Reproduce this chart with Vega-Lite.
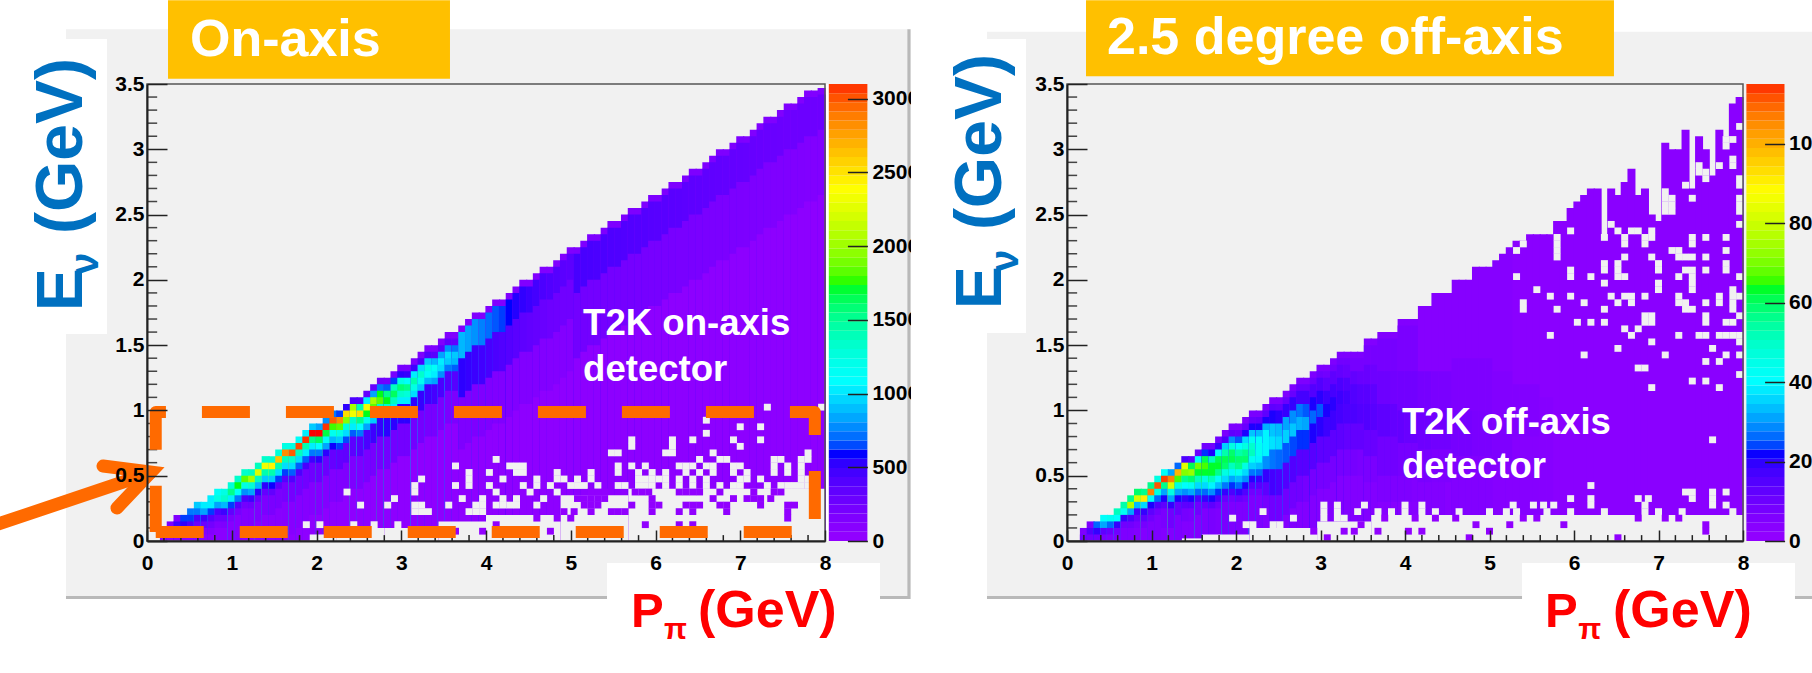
{"$schema":"https://vega.github.io/schema/vega-lite/v6.json","background":"white","autosize":{"type":"none"},"padding":{"left":147,"top":84,"right":1665,"bottom":589},"bounds":"flush","spacing":242,"config":{"view":{"stroke":null}},"resolve":{"scale":{"color":"independent"}},
"hconcat":[
{"width":678,"height":457,"resolve":{"scale":{"x":"independent","y":"independent"},"axis":{"x":"independent","y":"independent"}},"layer":[
{"data":{"values":[
{"x":-0.956,"e":9.0,"y":-0.444,"t":-0.421,"c":"#b9b9b9"},
{"x":8.97,"e":9.01,"y":-0.444,"t":3.92,"c":"#b9b9b9"},
{"x":-0.956,"e":8.97,"y":-0.421,"t":3.92,"c":"#f1f1f1"},
{"x":-0.956,"e":-0.472,"y":1.585,"t":3.844,"c":"#ffffff"},
{"x":5.428,"e":8.649,"y":-0.47,"t":-0.168,"c":"#ffffff"},
{"x":0.248,"e":3.575,"y":3.541,"t":4.142,"c":"#ffc000"},
{"x":8.005,"e":8.045,"y":0,"t":3.5,"c":"#ffffff"}]},
"mark":{"type":"rect"},"encoding":{"x":{"field":"x","type":"quantitative","scale":{"domain":[0,8],"nice":false,"padding":0},"axis":{"orient":"bottom","values":[0,1,2,3,4,5,6,7,8],"title":null,"grid":false,"zindex":1,"domainColor":"#222","domainWidth":2,"tickColor":"#222","tickWidth":1.5,"tickSize":-11,"labelPadding":22,"labelFontSize":21,"labelFontWeight":"bold","labelFont":"Liberation Sans","labelColor":"#000","labelFlush":false,"labelOverlap":false}},"x2":{"field":"e"},"y":{"field":"y","type":"quantitative","scale":{"domain":[0,3.5],"nice":false,"padding":0},"axis":{"orient":"left","values":[0,0.5,1,1.5,2,2.5,3,3.5],"format":"~g","title":null,"grid":false,"zindex":1,"domainColor":"#222","domainWidth":2,"tickColor":"#222","tickWidth":1.5,"tickSize":-20,"labelPadding":23,"labelFontSize":21,"labelFontWeight":"bold","labelFont":"Liberation Sans","labelColor":"#000","labelFlush":false,"labelOverlap":false}},"y2":{"field":"t"},"fill":{"field":"c","type":"nominal","scale":null}}},
{"data":{"values":[
{"x":0.2,"b":0.1,"v":100},{"x":0.2,"b":0.05,"v":60},
{"x":0.28,"b":0.15,"v":130},{"x":0.28,"b":0.1,"v":500},{"x":0.28,"b":0.05,"v":60},
{"x":0.36,"b":0.2,"v":120},{"x":0.36,"b":0.15,"v":450},{"x":0.36,"b":0.1,"v":350},{"x":0.36,"b":0.05,"v":80},
{"x":0.44,"b":0.2,"v":600},{"x":0.44,"b":0.15,"v":500},{"x":0.44,"b":0.1,"v":300},{"x":0.44,"b":0.05,"v":80},
{"x":0.52,"b":0.25,"v":700},{"x":0.52,"b":0.2,"v":600},{"x":0.52,"b":0.15,"v":400},{"x":0.52,"b":0.1,"v":150},{"x":0.52,"b":0.05,"v":50},
{"x":0.6,"b":0.3,"v":900},{"x":0.6,"b":0.25,"v":700},{"x":0.6,"b":0.2,"v":400},{"x":0.6,"b":0.15,"v":250},{"x":0.6,"b":0.1,"v":100},{"x":0.6,"b":0.05,"v":40},
{"x":0.68,"b":0.3,"v":1000},{"x":0.68,"b":0.25,"v":800},{"x":0.68,"b":0.2,"v":450},{"x":0.68,"b":0.15,"v":250},{"x":0.68,"b":0.1,"v":100},{"x":0.68,"b":0.05,"v":40},
{"x":0.76,"b":0.35,"v":1000},{"x":0.76,"b":0.3,"v":1000},{"x":0.76,"b":0.25,"v":600},{"x":0.76,"b":0.2,"v":350},{"x":0.76,"b":0.15,"v":200},{"x":0.76,"b":0.1,"v":100},{"x":0.76,"b":0.05,"v":40},
{"x":0.84,"b":0.4,"v":1100},{"x":0.84,"b":0.35,"v":1200},{"x":0.84,"b":0.3,"v":800},{"x":0.84,"b":0.25,"v":400},{"x":0.84,"b":0.2,"v":250},{"x":0.84,"b":0.15,"v":120},{"x":0.84,"b":0.1,"v":50},
{"x":0.92,"b":0.4,"v":1200},{"x":0.92,"b":0.35,"v":1300},{"x":0.92,"b":0.3,"v":850},{"x":0.92,"b":0.25,"v":450},{"x":0.92,"b":0.2,"v":250},{"x":0.92,"b":0.15,"v":130},{"x":0.92,"b":0.1,"v":50},
{"x":1,"b":0.45,"v":1250},{"x":1,"b":0.4,"v":1500},{"x":1,"b":0.35,"v":1000},{"x":1,"b":0.3,"v":600},{"x":1,"b":0.25,"v":300},{"x":1,"b":0.2,"v":150},{"x":1,"b":0.15,"v":70},
{"x":1.08,"b":0.5,"v":1300},{"x":1.08,"b":0.45,"v":1700},{"x":1.08,"b":0.4,"v":1100},{"x":1.08,"b":0.35,"v":700},{"x":1.08,"b":0.3,"v":350},{"x":1.08,"b":0.25,"v":180},{"x":1.08,"b":0.2,"v":80},
{"x":1.16,"b":0.55,"v":1300},{"x":1.16,"b":0.5,"v":1800},{"x":1.16,"b":0.45,"v":1200},{"x":1.16,"b":0.4,"v":750},{"x":1.16,"b":0.35,"v":400},{"x":1.16,"b":0.3,"v":200},{"x":1.16,"b":0.25,"v":100},{"x":1.16,"b":0.1,"v":40},
{"x":1.24,"b":0.55,"v":1350},{"x":1.24,"b":0.5,"v":2000},{"x":1.24,"b":0.45,"v":1250},{"x":1.24,"b":0.4,"v":800},{"x":1.24,"b":0.35,"v":450},{"x":1.24,"b":0.3,"v":220},{"x":1.24,"b":0.25,"v":110},{"x":1.24,"b":0.1,"v":40},
{"x":1.32,"b":0.6,"v":1350},{"x":1.32,"b":0.55,"v":2200},{"x":1.32,"b":0.5,"v":1350},{"x":1.32,"b":0.45,"v":850},{"x":1.32,"b":0.4,"v":500},{"x":1.32,"b":0.35,"v":250},{"x":1.32,"b":0.3,"v":125},{"x":1.32,"b":0.15,"v":50},
{"x":1.4,"b":0.65,"v":1300},{"x":1.4,"b":0.6,"v":2300},{"x":1.4,"b":0.55,"v":1400},{"x":1.4,"b":0.5,"v":900},{"x":1.4,"b":0.45,"v":500},{"x":1.4,"b":0.4,"v":280},{"x":1.4,"b":0.35,"v":140},{"x":1.4,"b":0.2,"v":55},
{"x":1.48,"b":0.65,"v":1300},{"x":1.48,"b":0.6,"v":2400},{"x":1.48,"b":0.55,"v":1400},{"x":1.48,"b":0.5,"v":900},{"x":1.48,"b":0.45,"v":550},{"x":1.48,"b":0.4,"v":300},{"x":1.48,"b":0.35,"v":150},{"x":1.48,"b":0.2,"v":60},
{"x":1.56,"b":0.7,"v":1250},{"x":1.56,"b":0.65,"v":2600},{"x":1.56,"b":0.6,"v":1400},{"x":1.56,"b":0.55,"v":950},{"x":1.56,"b":0.5,"v":600},{"x":1.56,"b":0.45,"v":320},{"x":1.56,"b":0.4,"v":160},{"x":1.56,"b":0.25,"v":65},
{"x":1.64,"b":0.75,"v":1200},{"x":1.64,"b":0.7,"v":2800},{"x":1.64,"b":0.65,"v":1350},{"x":1.64,"b":0.6,"v":950},{"x":1.64,"b":0.55,"v":600},{"x":1.64,"b":0.5,"v":350},{"x":1.64,"b":0.45,"v":175},{"x":1.64,"b":0.3,"v":70},{"x":1.64,"b":0.05,"v":25},
{"x":1.72,"b":0.75,"v":1200},{"x":1.72,"b":0.7,"v":2950},{"x":1.72,"b":0.65,"v":1300},{"x":1.72,"b":0.6,"v":950},{"x":1.72,"b":0.55,"v":650},{"x":1.72,"b":0.5,"v":380},{"x":1.72,"b":0.45,"v":190},{"x":1.72,"b":0.3,"v":75},{"x":1.72,"b":0.05,"v":25},
{"x":1.8,"b":0.8,"v":1100},{"x":1.8,"b":0.75,"v":3000},{"x":1.8,"b":0.7,"v":1350},{"x":1.8,"b":0.65,"v":950},{"x":1.8,"b":0.6,"v":650},{"x":1.8,"b":0.55,"v":400},{"x":1.8,"b":0.5,"v":200},{"x":1.8,"b":0.35,"v":80},{"x":1.8,"b":0.1,"v":25},
{"x":1.88,"b":0.85,"v":1000},{"x":1.88,"b":0.8,"v":3050},{"x":1.88,"b":0.75,"v":1400},{"x":1.88,"b":0.7,"v":1000},{"x":1.88,"b":0.65,"v":650},{"x":1.88,"b":0.6,"v":420},{"x":1.88,"b":0.55,"v":210},{"x":1.88,"b":0.4,"v":85},{"x":1.88,"b":0.15,"v":25},
{"x":1.96,"b":0.9,"v":900},{"x":1.96,"b":0.85,"v":3100},{"x":1.96,"b":0.8,"v":1500},{"x":1.96,"b":0.75,"v":1000},{"x":1.96,"b":0.7,"v":700},{"x":1.96,"b":0.65,"v":450},{"x":1.96,"b":0.6,"v":225},{"x":1.96,"b":0.45,"v":90},{"x":1.96,"b":0.2,"v":25},
{"x":2.04,"b":0.9,"v":800},{"x":2.04,"b":0.85,"v":3100},{"x":2.04,"b":0.8,"v":1600},{"x":2.04,"b":0.75,"v":1050},{"x":2.04,"b":0.7,"v":700},{"x":2.04,"b":0.65,"v":500},{"x":2.04,"b":0.6,"v":250},{"x":2.04,"b":0.45,"v":100},{"x":2.04,"b":0.2,"v":25},
{"x":2.12,"b":0.95,"v":750},{"x":2.12,"b":0.9,"v":3050},{"x":2.12,"b":0.85,"v":1650},{"x":2.12,"b":0.8,"v":1100},{"x":2.12,"b":0.75,"v":800},{"x":2.12,"b":0.7,"v":500},{"x":2.12,"b":0.65,"v":250},{"x":2.12,"b":0.5,"v":100},{"x":2.12,"b":0.25,"v":25},
{"x":2.2,"b":1,"v":700},{"x":2.2,"b":0.95,"v":2950},{"x":2.2,"b":0.9,"v":1750},{"x":2.2,"b":0.85,"v":1150},{"x":2.2,"b":0.8,"v":850},{"x":2.2,"b":0.75,"v":550},{"x":2.2,"b":0.7,"v":275},{"x":2.2,"b":0.55,"v":110},{"x":2.2,"b":0.3,"v":25},
{"x":2.28,"b":1,"v":600},{"x":2.28,"b":0.95,"v":2800},{"x":2.28,"b":0.9,"v":1800},{"x":2.28,"b":0.85,"v":1200},{"x":2.28,"b":0.8,"v":900},{"x":2.28,"b":0.75,"v":600},{"x":2.28,"b":0.7,"v":300},{"x":2.28,"b":0.55,"v":120},{"x":2.28,"b":0.3,"v":25},
{"x":2.36,"b":1.05,"v":500},{"x":2.36,"b":1,"v":2500},{"x":2.36,"b":0.95,"v":1900},{"x":2.36,"b":0.9,"v":1250},{"x":2.36,"b":0.85,"v":950},{"x":2.36,"b":0.8,"v":620},{"x":2.36,"b":0.75,"v":310},{"x":2.36,"b":0.6,"v":125},{"x":2.36,"b":0.35,"v":25},
{"x":2.44,"b":1.1,"v":400},{"x":2.44,"b":1.05,"v":2000},{"x":2.44,"b":1,"v":2300},{"x":2.44,"b":0.95,"v":1300},{"x":2.44,"b":0.9,"v":1000},{"x":2.44,"b":0.85,"v":650},{"x":2.44,"b":0.8,"v":325},{"x":2.44,"b":0.65,"v":130},{"x":2.44,"b":0.4,"v":25},
{"x":2.52,"b":1.1,"v":380},{"x":2.52,"b":1.05,"v":1400},{"x":2.52,"b":1,"v":2500},{"x":2.52,"b":0.95,"v":1500},{"x":2.52,"b":0.9,"v":1050},{"x":2.52,"b":0.85,"v":700},{"x":2.52,"b":0.8,"v":350},{"x":2.52,"b":0.65,"v":140},{"x":2.52,"b":0.4,"v":25},
{"x":2.6,"b":1.15,"v":300},{"x":2.6,"b":1.1,"v":1000},{"x":2.6,"b":1.05,"v":2300},{"x":2.6,"b":1,"v":1700},{"x":2.6,"b":0.95,"v":1150},{"x":2.6,"b":0.9,"v":800},{"x":2.6,"b":0.85,"v":400},{"x":2.6,"b":0.7,"v":160},{"x":2.6,"b":0.45,"v":25},
{"x":2.68,"b":1.2,"v":280},{"x":2.68,"b":1.15,"v":800},{"x":2.68,"b":1.1,"v":2000},{"x":2.68,"b":1.05,"v":1800},{"x":2.68,"b":1,"v":1250},{"x":2.68,"b":0.95,"v":900},{"x":2.68,"b":0.9,"v":450},{"x":2.68,"b":0.75,"v":180},{"x":2.68,"b":0.5,"v":25},
{"x":2.76,"b":1.25,"v":220},{"x":2.76,"b":1.2,"v":700},{"x":2.76,"b":1.15,"v":1700},{"x":2.76,"b":1.1,"v":1800},{"x":2.76,"b":1.05,"v":1300},{"x":2.76,"b":1,"v":950},{"x":2.76,"b":0.95,"v":475},{"x":2.76,"b":0.8,"v":190},{"x":2.76,"b":0.55,"v":25},
{"x":2.84,"b":1.25,"v":200},{"x":2.84,"b":1.2,"v":650},{"x":2.84,"b":1.15,"v":1500},{"x":2.84,"b":1.1,"v":1700},{"x":2.84,"b":1.05,"v":1300},{"x":2.84,"b":1,"v":1000},{"x":2.84,"b":0.95,"v":500},{"x":2.84,"b":0.8,"v":200},{"x":2.84,"b":0.55,"v":25},
{"x":2.92,"b":1.3,"v":180},{"x":2.92,"b":1.25,"v":600},{"x":2.92,"b":1.2,"v":1350},{"x":2.92,"b":1.15,"v":1600},{"x":2.92,"b":1.1,"v":1350},{"x":2.92,"b":1.05,"v":1000},{"x":2.92,"b":1,"v":500},{"x":2.92,"b":0.85,"v":200},{"x":2.92,"b":0.6,"v":25},
{"x":3,"b":1.35,"v":170},{"x":3,"b":1.3,"v":500},{"x":3,"b":1.25,"v":1200},{"x":3,"b":1.2,"v":1550},{"x":3,"b":1.15,"v":1300},{"x":3,"b":1.1,"v":1000},{"x":3,"b":1.05,"v":500},{"x":3,"b":0.9,"v":200},{"x":3,"b":0.65,"v":25},
{"x":3.08,"b":1.35,"v":160},{"x":3.08,"b":1.3,"v":480},{"x":3.08,"b":1.25,"v":1100},{"x":3.08,"b":1.2,"v":1500},{"x":3.08,"b":1.15,"v":1250},{"x":3.08,"b":1.1,"v":1000},{"x":3.08,"b":1.05,"v":500},{"x":3.08,"b":0.9,"v":200},{"x":3.08,"b":0.65,"v":25},
{"x":3.16,"b":1.4,"v":150},{"x":3.16,"b":1.35,"v":450},{"x":3.16,"b":1.3,"v":1000},{"x":3.16,"b":1.25,"v":1400},{"x":3.16,"b":1.2,"v":1200},{"x":3.16,"b":1.15,"v":950},{"x":3.16,"b":1.1,"v":500},{"x":3.16,"b":0.95,"v":200},{"x":3.16,"b":0.7,"v":25},
{"x":3.24,"b":1.45,"v":140},{"x":3.24,"b":1.4,"v":400},{"x":3.24,"b":1.35,"v":950},{"x":3.24,"b":1.3,"v":1300},{"x":3.24,"b":1.25,"v":1150},{"x":3.24,"b":1.2,"v":900},{"x":3.24,"b":1.15,"v":475},{"x":3.24,"b":1,"v":190},{"x":3.24,"b":0.75,"v":25},
{"x":3.32,"b":1.5,"v":130},{"x":3.32,"b":1.45,"v":380},{"x":3.32,"b":1.4,"v":900},{"x":3.32,"b":1.35,"v":1200},{"x":3.32,"b":1.3,"v":1100},{"x":3.32,"b":1.25,"v":850},{"x":3.32,"b":1.2,"v":450},{"x":3.32,"b":1.05,"v":180},{"x":3.32,"b":0.8,"v":25},
{"x":3.4,"b":1.5,"v":130},{"x":3.4,"b":1.45,"v":350},{"x":3.4,"b":1.4,"v":850},{"x":3.4,"b":1.35,"v":1100},{"x":3.4,"b":1.3,"v":1000},{"x":3.4,"b":1.25,"v":800},{"x":3.4,"b":1.2,"v":425},{"x":3.4,"b":1.05,"v":170},{"x":3.4,"b":0.8,"v":25},
{"x":3.48,"b":1.55,"v":120},{"x":3.48,"b":1.5,"v":330},{"x":3.48,"b":1.45,"v":800},{"x":3.48,"b":1.4,"v":1000},{"x":3.48,"b":1.35,"v":950},{"x":3.48,"b":1.3,"v":750},{"x":3.48,"b":1.25,"v":400},{"x":3.48,"b":1.1,"v":160},{"x":3.48,"b":0.85,"v":25},
{"x":3.56,"b":1.6,"v":120},{"x":3.56,"b":1.55,"v":320},{"x":3.56,"b":1.5,"v":750},{"x":3.56,"b":1.45,"v":950},{"x":3.56,"b":1.4,"v":900},{"x":3.56,"b":1.35,"v":700},{"x":3.56,"b":1.3,"v":375},{"x":3.56,"b":1.15,"v":150},{"x":3.56,"b":0.9,"v":25},
{"x":3.64,"b":1.6,"v":110},{"x":3.64,"b":1.55,"v":300},{"x":3.64,"b":1.5,"v":700},{"x":3.64,"b":1.45,"v":900},{"x":3.64,"b":1.4,"v":850},{"x":3.64,"b":1.35,"v":650},{"x":3.64,"b":1.3,"v":350},{"x":3.64,"b":1.15,"v":140},{"x":3.64,"b":0.9,"v":25},
{"x":3.72,"b":1.65,"v":110},{"x":3.72,"b":1.6,"v":850},{"x":3.72,"b":1.4,"v":500},{"x":3.72,"b":1.1,"v":130},{"x":3.72,"b":0.7,"v":25},
{"x":3.8,"b":1.7,"v":110},{"x":3.8,"b":1.65,"v":800},{"x":3.8,"b":1.45,"v":480},{"x":3.8,"b":1.15,"v":130},{"x":3.8,"b":0.75,"v":25},
{"x":3.88,"b":1.75,"v":110},{"x":3.88,"b":1.7,"v":760},{"x":3.88,"b":1.5,"v":460},{"x":3.88,"b":1.2,"v":130},{"x":3.88,"b":0.8,"v":25},
{"x":3.96,"b":1.75,"v":110},{"x":3.96,"b":1.7,"v":720},{"x":3.96,"b":1.5,"v":440},{"x":3.96,"b":1.2,"v":125},{"x":3.96,"b":0.8,"v":25},
{"x":4.04,"b":1.8,"v":110},{"x":4.04,"b":1.75,"v":680},{"x":4.04,"b":1.55,"v":420},{"x":4.04,"b":1.25,"v":125},{"x":4.04,"b":0.85,"v":25},
{"x":4.12,"b":1.85,"v":110},{"x":4.12,"b":1.8,"v":640},{"x":4.12,"b":1.6,"v":400},{"x":4.12,"b":1.3,"v":120},{"x":4.12,"b":0.9,"v":25},
{"x":4.2,"b":1.85,"v":110},{"x":4.2,"b":1.8,"v":600},{"x":4.2,"b":1.6,"v":380},{"x":4.2,"b":1.3,"v":120},{"x":4.2,"b":0.9,"v":25},
{"x":4.28,"b":1.9,"v":110},{"x":4.28,"b":1.85,"v":560},{"x":4.28,"b":1.65,"v":360},{"x":4.28,"b":1.35,"v":115},{"x":4.28,"b":0.95,"v":25},
{"x":4.36,"b":1.95,"v":110},{"x":4.36,"b":1.9,"v":520},{"x":4.36,"b":1.7,"v":340},{"x":4.36,"b":1.4,"v":115},{"x":4.36,"b":1,"v":25},
{"x":4.44,"b":2,"v":110},{"x":4.44,"b":1.95,"v":490},{"x":4.44,"b":1.75,"v":320},{"x":4.44,"b":1.45,"v":110},{"x":4.44,"b":1.05,"v":25},
{"x":4.52,"b":2,"v":110},{"x":4.52,"b":1.95,"v":460},{"x":4.52,"b":1.75,"v":300},{"x":4.52,"b":1.45,"v":110},{"x":4.52,"b":1.05,"v":25},
{"x":4.6,"b":2.05,"v":110},{"x":4.6,"b":2,"v":430},{"x":4.6,"b":1.8,"v":280},{"x":4.6,"b":1.5,"v":105},{"x":4.6,"b":1.1,"v":25},
{"x":4.68,"b":2.1,"v":110},{"x":4.68,"b":2.05,"v":400},{"x":4.68,"b":1.85,"v":260},{"x":4.68,"b":1.55,"v":105},{"x":4.68,"b":1.15,"v":25},
{"x":4.76,"b":2.1,"v":110},{"x":4.76,"b":2.05,"v":380},{"x":4.76,"b":1.85,"v":240},{"x":4.76,"b":1.55,"v":100},{"x":4.76,"b":1.15,"v":25},
{"x":4.84,"b":2.15,"v":110},{"x":4.84,"b":2.1,"v":360},{"x":4.84,"b":1.9,"v":230},{"x":4.84,"b":1.6,"v":100},{"x":4.84,"b":1.2,"v":25},
{"x":4.92,"b":2.2,"v":110},{"x":4.92,"b":2.15,"v":340},{"x":4.92,"b":1.95,"v":220},{"x":4.92,"b":1.65,"v":100},{"x":4.92,"b":1.25,"v":25},
{"x":5,"b":2.25,"v":110},{"x":5,"b":2.2,"v":330},{"x":5,"b":2,"v":220},{"x":5,"b":1.7,"v":100},{"x":5,"b":1.3,"v":25},
{"x":5.08,"b":2.25,"v":130},{"x":5.08,"b":2.2,"v":420},{"x":5.08,"b":1.9,"v":210},{"x":5.08,"b":1.4,"v":30},
{"x":5.16,"b":2.3,"v":130},{"x":5.16,"b":2.25,"v":415},{"x":5.16,"b":1.95,"v":207},{"x":5.16,"b":1.45,"v":30},
{"x":5.24,"b":2.35,"v":130},{"x":5.24,"b":2.3,"v":410},{"x":5.24,"b":2,"v":204},{"x":5.24,"b":1.5,"v":30},
{"x":5.32,"b":2.35,"v":130},{"x":5.32,"b":2.3,"v":403},{"x":5.32,"b":2,"v":201},{"x":5.32,"b":1.5,"v":30},
{"x":5.4,"b":2.4,"v":130},{"x":5.4,"b":2.35,"v":398},{"x":5.4,"b":2.05,"v":199},{"x":5.4,"b":1.55,"v":30},
{"x":5.48,"b":2.45,"v":130},{"x":5.48,"b":2.4,"v":392},{"x":5.48,"b":2.1,"v":196},{"x":5.48,"b":1.6,"v":30},
{"x":5.56,"b":2.45,"v":130},{"x":5.56,"b":2.4,"v":386},{"x":5.56,"b":2.1,"v":193},{"x":5.56,"b":1.6,"v":30},
{"x":5.64,"b":2.5,"v":130},{"x":5.64,"b":2.45,"v":381},{"x":5.64,"b":2.15,"v":190},{"x":5.64,"b":1.65,"v":30},
{"x":5.72,"b":2.55,"v":130},{"x":5.72,"b":2.5,"v":375},{"x":5.72,"b":2.2,"v":188},{"x":5.72,"b":1.7,"v":30},
{"x":5.8,"b":2.55,"v":130},{"x":5.8,"b":2.5,"v":370},{"x":5.8,"b":2.2,"v":185},{"x":5.8,"b":1.7,"v":30},
{"x":5.88,"b":2.6,"v":130},{"x":5.88,"b":2.55,"v":364},{"x":5.88,"b":2.25,"v":182},{"x":5.88,"b":1.75,"v":30},
{"x":5.96,"b":2.65,"v":130},{"x":5.96,"b":2.6,"v":358},{"x":5.96,"b":2.3,"v":179},{"x":5.96,"b":1.8,"v":30},
{"x":6.04,"b":2.65,"v":130},{"x":6.04,"b":2.6,"v":353},{"x":6.04,"b":2.3,"v":176},{"x":6.04,"b":1.8,"v":30},
{"x":6.12,"b":2.7,"v":130},{"x":6.12,"b":2.65,"v":347},{"x":6.12,"b":2.35,"v":174},{"x":6.12,"b":1.85,"v":30},
{"x":6.2,"b":2.75,"v":130},{"x":6.2,"b":2.7,"v":342},{"x":6.2,"b":2.4,"v":171},{"x":6.2,"b":1.9,"v":30},
{"x":6.28,"b":2.75,"v":130},{"x":6.28,"b":2.7,"v":336},{"x":6.28,"b":2.4,"v":168},{"x":6.28,"b":1.9,"v":30},
{"x":6.36,"b":2.8,"v":130},{"x":6.36,"b":2.75,"v":330},{"x":6.36,"b":2.45,"v":165},{"x":6.36,"b":1.95,"v":30},
{"x":6.44,"b":2.85,"v":130},{"x":6.44,"b":2.8,"v":325},{"x":6.44,"b":2.5,"v":162},{"x":6.44,"b":2,"v":30},
{"x":6.52,"b":2.85,"v":130},{"x":6.52,"b":2.8,"v":319},{"x":6.52,"b":2.5,"v":160},{"x":6.52,"b":2,"v":30},
{"x":6.6,"b":2.9,"v":130},{"x":6.6,"b":2.85,"v":314},{"x":6.6,"b":2.55,"v":157},{"x":6.6,"b":2.05,"v":30},
{"x":6.68,"b":2.95,"v":130},{"x":6.68,"b":2.9,"v":308},{"x":6.68,"b":2.6,"v":154},{"x":6.68,"b":2.1,"v":30},
{"x":6.76,"b":3,"v":130},{"x":6.76,"b":2.95,"v":302},{"x":6.76,"b":2.65,"v":151},{"x":6.76,"b":2.15,"v":30},
{"x":6.84,"b":3,"v":130},{"x":6.84,"b":2.95,"v":297},{"x":6.84,"b":2.65,"v":148},{"x":6.84,"b":2.15,"v":30},
{"x":6.92,"b":3.05,"v":130},{"x":6.92,"b":3,"v":291},{"x":6.92,"b":2.7,"v":146},{"x":6.92,"b":2.2,"v":30},
{"x":7,"b":3.1,"v":130},{"x":7,"b":3.05,"v":286},{"x":7,"b":2.75,"v":143},{"x":7,"b":2.25,"v":30},
{"x":7.08,"b":3.1,"v":120},{"x":7.08,"b":3.05,"v":280},{"x":7.08,"b":2.75,"v":140},{"x":7.08,"b":2.25,"v":30},
{"x":7.16,"b":3.15,"v":120},{"x":7.16,"b":3.1,"v":274},{"x":7.16,"b":2.8,"v":137},{"x":7.16,"b":2.3,"v":30},
{"x":7.24,"b":3.2,"v":120},{"x":7.24,"b":3.15,"v":269},{"x":7.24,"b":2.85,"v":134},{"x":7.24,"b":2.35,"v":30},
{"x":7.32,"b":3.25,"v":120},{"x":7.32,"b":3.2,"v":263},{"x":7.32,"b":2.9,"v":132},{"x":7.32,"b":2.4,"v":30},
{"x":7.4,"b":3.25,"v":120},{"x":7.4,"b":3.2,"v":258},{"x":7.4,"b":2.9,"v":129},{"x":7.4,"b":2.4,"v":30},
{"x":7.48,"b":3.3,"v":120},{"x":7.48,"b":3.25,"v":252},{"x":7.48,"b":2.95,"v":126},{"x":7.48,"b":2.45,"v":30},
{"x":7.56,"b":3.35,"v":120},{"x":7.56,"b":3.3,"v":249},{"x":7.56,"b":3,"v":123},{"x":7.56,"b":2.5,"v":30},
{"x":7.64,"b":3.35,"v":110},{"x":7.64,"b":3.3,"v":246},{"x":7.64,"b":3,"v":120},{"x":7.64,"b":2.5,"v":30},
{"x":7.72,"b":3.4,"v":110},{"x":7.72,"b":3.35,"v":244},{"x":7.72,"b":3.05,"v":118},{"x":7.72,"b":2.55,"v":30},
{"x":7.8,"b":3.45,"v":110},{"x":7.8,"b":3.4,"v":241},{"x":7.8,"b":3.1,"v":115},{"x":7.8,"b":2.6,"v":30},
{"x":7.88,"b":3.45,"v":110},{"x":7.88,"b":3.4,"v":238},{"x":7.88,"b":3.1,"v":112},{"x":7.88,"b":2.6,"v":30},
{"x":7.96,"b":3.47,"v":110},{"x":7.96,"b":3.42,"v":238},{"x":7.96,"b":3.15,"v":112},{"x":7.96,"b":2.65,"v":30}]},
"mark":{"type":"bar","width":8,"orient":"vertical"},"encoding":{"x":{"field":"x","type":"quantitative","scale":{"domain":[0,8],"nice":false,"padding":0},"axis":null},"y":{"field":"b","type":"quantitative","stack":null,"scale":{"domain":[0,3.5],"nice":false,"padding":0},"axis":null},"color":{"field":"v","type":"quantitative","legend":null,"scale":{"domain":[0,560,1050,1710,2360,3100],"range":["#9100ff","#0000ff","#00ffff","#00ff00","#ffff00","#ff0000"]}}}},
{"data":{"values":[
{"x":1.92,"e":2.24,"y":0,"t":0.05},{"x":2.24,"e":2.8,"y":0,"t":0.1},{"x":2.8,"e":3.44,"y":0,"t":0.1},{"x":3.44,"e":4,"y":0,"t":0.15},{"x":4,"e":4.88,"y":0,"t":0.2},{"x":4.88,"e":5.68,"y":0,"t":0.35},{"x":5.68,"e":8,"y":0,"t":0.4}]},
"mark":{"type":"rect","color":"#f1f1f1"},"encoding":{"x":{"field":"x","type":"quantitative","scale":{"domain":[0,8],"nice":false,"padding":0},"axis":null},"x2":{"field":"e"},"y":{"field":"y","type":"quantitative","scale":{"domain":[0,3.5],"nice":false,"padding":0},"axis":null},"y2":{"field":"t"}}},
{"data":{"values":[
{"x":7.32,"y":1.025},{"x":7.96,"y":1.025},{"x":6.6,"y":0.925},{"x":7,"y":0.875},{"x":7.24,"y":0.875},{"x":6.6,"y":0.825},{"x":6.2,"y":0.775},{"x":6.44,"y":0.775},{"x":6.92,"y":0.775},{"x":7.24,"y":0.775},{"x":5.72,"y":0.775},{"x":5.72,"y":0.725},{"x":7,"y":0.725},{"x":6.2,"y":0.725},{"x":5.48,"y":0.675},{"x":5.56,"y":0.675},{"x":6.12,"y":0.675},{"x":6.2,"y":0.675},{"x":6.68,"y":0.675},{"x":7.8,"y":0.675},{"x":7.8,"y":0.625},{"x":6.52,"y":0.625},{"x":6.76,"y":0.625},{"x":6.84,"y":0.625},{"x":7.4,"y":0.625},{"x":7.48,"y":0.625},{"x":7.72,"y":0.625},{"x":5.56,"y":0.575},{"x":5.72,"y":0.575},{"x":6.28,"y":0.575},{"x":6.36,"y":0.575},{"x":6.6,"y":0.575},{"x":6.92,"y":0.575},{"x":7.4,"y":0.575},{"x":7.56,"y":0.575},{"x":7.72,"y":0.575},{"x":5.88,"y":0.575},{"x":6.44,"y":0.575},{"x":6.68,"y":0.575},{"x":7,"y":0.575},
{"x":5.24,"y":0.525},{"x":5.56,"y":0.525},{"x":5.8,"y":0.525},{"x":5.96,"y":0.525},{"x":6.12,"y":0.525},{"x":6.36,"y":0.525},{"x":6.52,"y":0.525},{"x":6.68,"y":0.525},{"x":6.92,"y":0.525},{"x":7.08,"y":0.525},{"x":7.4,"y":0.525},{"x":7.56,"y":0.525},{"x":7.72,"y":0.525},
{"x":5.08,"y":0.475},{"x":5.24,"y":0.475},{"x":5.8,"y":0.475},{"x":5.88,"y":0.475},{"x":5.96,"y":0.475},{"x":6.04,"y":0.475},{"x":6.12,"y":0.475},{"x":6.28,"y":0.475},{"x":6.44,"y":0.475},{"x":6.6,"y":0.475},{"x":7,"y":0.475},{"x":7.08,"y":0.475},{"x":7.24,"y":0.475},{"x":7.72,"y":0.475},{"x":7.8,"y":0.475},
{"x":5,"y":0.425},{"x":5.08,"y":0.425},{"x":5.16,"y":0.425},{"x":5.32,"y":0.425},{"x":5.56,"y":0.425},{"x":5.64,"y":0.425},{"x":5.8,"y":0.425},{"x":5.88,"y":0.425},{"x":5.96,"y":0.425},{"x":6.12,"y":0.425},{"x":6.28,"y":0.425},{"x":6.44,"y":0.425},{"x":6.6,"y":0.425},{"x":6.76,"y":0.425},{"x":6.92,"y":0.425},{"x":7,"y":0.425},{"x":7.32,"y":0.425},{"x":7.48,"y":0.425},{"x":7.56,"y":0.425},{"x":7.64,"y":0.425},{"x":7.72,"y":0.425},{"x":7.8,"y":0.425},{"x":7.88,"y":0.425},
{"x":3.64,"y":0.575},{"x":4.28,"y":0.575},{"x":4.36,"y":0.575},{"x":4.44,"y":0.575},{"x":4.12,"y":0.625},{"x":3.8,"y":0.525},{"x":4.04,"y":0.525},{"x":4.36,"y":0.525},{"x":4.44,"y":0.525},{"x":4.84,"y":0.525},{"x":3.8,"y":0.475},{"x":4.2,"y":0.475},{"x":4.6,"y":0.475},{"x":4.84,"y":0.475},{"x":4.92,"y":0.475},{"x":3.64,"y":0.425},{"x":3.8,"y":0.425},{"x":4.04,"y":0.425},{"x":4.44,"y":0.425},{"x":4.6,"y":0.425},{"x":4.76,"y":0.425},{"x":4.12,"y":0.375},{"x":4.52,"y":0.375},{"x":4.84,"y":0.375},{"x":3.72,"y":0.325},{"x":3.96,"y":0.325},{"x":4.2,"y":0.325},{"x":4.36,"y":0.325},{"x":4.68,"y":0.325},{"x":3.96,"y":0.275},{"x":3.88,"y":0.275},{"x":4.12,"y":0.275},{"x":4.2,"y":0.275},{"x":4.28,"y":0.275},{"x":4.36,"y":0.275},{"x":4.6,"y":0.275},{"x":3.8,"y":0.225},{"x":3.88,"y":0.225},{"x":3.96,"y":0.225},
{"x":3.24,"y":0.475},{"x":3.16,"y":0.425},{"x":3.16,"y":0.375},{"x":2.92,"y":0.325},{"x":2.36,"y":0.375},{"x":2.52,"y":0.275},{"x":2.84,"y":0.275},{"x":3.16,"y":0.225},{"x":3.24,"y":0.225},{"x":3.32,"y":0.225},{"x":3.16,"y":0.275},{"x":3.24,"y":0.275},{"x":3.56,"y":0.275},{"x":2.68,"y":0.125},{"x":2.96,"y":0.125},{"x":1.88,"y":0.125},{"x":2.04,"y":0.125},{"x":2.44,"y":0.125}]},
"mark":{"type":"rect","width":7,"height":6.8,"color":"#f1f1f1"},"encoding":{"x":{"field":"x","type":"quantitative","scale":{"domain":[0,8],"nice":false,"padding":0},"axis":null},"y":{"field":"y","type":"quantitative","scale":{"domain":[0,3.5],"nice":false,"padding":0},"axis":null}}},
{"data":{"values":[
{"x":3.64,"y":0.075},{"x":3.96,"y":0.075},{"x":4.12,"y":0.125},{"x":4.76,"y":0.075},{"x":4.6,"y":0.175},{"x":4.84,"y":0.175},{"x":5,"y":0.175},{"x":4.92,"y":0.225},{"x":5.04,"y":0.225},{"x":5.08,"y":0.325},{"x":5.16,"y":0.325},{"x":5.24,"y":0.325},{"x":5.32,"y":0.325},{"x":5.4,"y":0.325},{"x":5.96,"y":0.325},{"x":6.68,"y":0.325},{"x":6.92,"y":0.325},{"x":7.08,"y":0.325},{"x":7.16,"y":0.325},{"x":7.24,"y":0.325},{"x":7.36,"y":0.325},{"x":5.16,"y":0.275},{"x":5.24,"y":0.275},{"x":5.32,"y":0.275},{"x":5.72,"y":0.275},{"x":5.96,"y":0.275},{"x":6.04,"y":0.275},{"x":6.36,"y":0.275},{"x":6.44,"y":0.275},{"x":6.52,"y":0.275},{"x":6.76,"y":0.275},{"x":6.84,"y":0.275},{"x":7.24,"y":0.275},{"x":7.56,"y":0.275},{"x":7.64,"y":0.275},{"x":5.24,"y":0.225},{"x":5.48,"y":0.225},{"x":5.56,"y":0.225},{"x":5.64,"y":0.225},{"x":5.96,"y":0.225},{"x":6.28,"y":0.225},{"x":6.44,"y":0.225},{"x":6.84,"y":0.225},{"x":7.56,"y":0.225},{"x":7.56,"y":0.175},{"x":5.88,"y":0.125},{"x":6.28,"y":0.125},{"x":6.44,"y":0.125},{"x":5.24,"y":0.375},{"x":5.32,"y":0.375},{"x":5.4,"y":0.375},{"x":5.76,"y":0.375},{"x":5.84,"y":0.375},{"x":5.92,"y":0.375},{"x":6.28,"y":0.375},{"x":6.36,"y":0.375},{"x":6.44,"y":0.375},{"x":6.52,"y":0.375},{"x":6.76,"y":0.375},{"x":7.16,"y":0.375},{"x":7.4,"y":0.375},{"x":7.48,"y":0.375}]},
"mark":{"type":"rect","width":7,"height":6.8,"color":"#9100ff"},"encoding":{"x":{"field":"x","type":"quantitative","scale":{"domain":[0,8],"nice":false,"padding":0},"axis":null},"y":{"field":"y","type":"quantitative","scale":{"domain":[0,3.5],"nice":false,"padding":0},"axis":null}}},
{"data":{"values":[{"a":0}]},"mark":{"type":"rect","filled":false,"stroke":"#555","strokeWidth":1.5},"encoding":{"x":{"datum":0,"type":"quantitative","scale":{"domain":[0,8],"nice":false,"padding":0},"axis":null},"x2":{"datum":8},"y":{"datum":0,"type":"quantitative","scale":{"domain":[0,3.5],"nice":false,"padding":0},"axis":null},"y2":{"datum":3.5}}},
{"data":{"values":[{"y":0.1},{"y":0.2},{"y":0.3},{"y":0.4},{"y":0.6},{"y":0.7},{"y":0.8},{"y":0.9},{"y":1.1},{"y":1.2},{"y":1.3},{"y":1.4},{"y":1.6},{"y":1.7},{"y":1.8},{"y":1.9},{"y":2.1},{"y":2.2},{"y":2.3},{"y":2.4},{"y":2.6},{"y":2.7},{"y":2.8},{"y":2.9},{"y":3.1},{"y":3.2},{"y":3.3},{"y":3.4}]},"mark":{"type":"rule","color":"#444","strokeWidth":1.5},"encoding":{"y":{"field":"y","type":"quantitative","scale":{"domain":[0,3.5],"nice":false,"padding":0},"axis":null},"x":{"datum":0,"type":"quantitative","scale":{"domain":[0,8],"nice":false,"padding":0},"axis":null},"x2":{"datum":0.12}}},
{"data":{"values":[{"x":0.2},{"x":0.4},{"x":0.6},{"x":0.8},{"x":1.2},{"x":1.4},{"x":1.6},{"x":1.8},{"x":2.2},{"x":2.4},{"x":2.6},{"x":2.8},{"x":3.2},{"x":3.4},{"x":3.6},{"x":3.8},{"x":4.2},{"x":4.4},{"x":4.6},{"x":4.8},{"x":5.2},{"x":5.4},{"x":5.6},{"x":5.8},{"x":6.2},{"x":6.4},{"x":6.6},{"x":6.8},{"x":7.2},{"x":7.4},{"x":7.6},{"x":7.8}]},"mark":{"type":"rule","color":"#222","strokeWidth":1.5},"encoding":{"x":{"field":"x","type":"quantitative","scale":{"domain":[0,8],"nice":false,"padding":0},"axis":null},"y":{"datum":0,"type":"quantitative","scale":{"domain":[0,3.5],"nice":false,"padding":0},"axis":null},"y2":{"datum":0.045}}},
{"data":{"values":[{"o":1,"x":0.103,"y":0.069},{"o":2,"x":7.88,"y":0.069},{"o":3,"x":7.88,"y":0.988},{"o":4,"x":0.103,"y":0.988},{"o":5,"x":0.103,"y":0.069}]},"mark":{"type":"line","color":"#ff6a00","strokeWidth":12,"strokeDash":[48,36],"strokeJoin":"round"},"encoding":{"order":{"field":"o"},"x":{"field":"x","type":"quantitative","scale":{"domain":[0,8],"nice":false,"padding":0},"axis":null},"y":{"field":"y","type":"quantitative","scale":{"domain":[0,3.5],"nice":false,"padding":0},"axis":null}}},
{"data":{"values":[{"s":"a","o":1,"x":-1.8,"y":0.12},{"s":"a","o":2,"x":0.035,"y":0.521},{"s":"b","o":1,"x":-0.519,"y":0.574},{"s":"b","o":2,"x":0.047,"y":0.528},{"s":"b","o":3,"x":-0.354,"y":0.253}]},"mark":{"type":"line","color":"#ff6a00","strokeWidth":13,"strokeCap":"round","strokeJoin":"miter"},"encoding":{"detail":{"field":"s"},"order":{"field":"o"},"x":{"field":"x","type":"quantitative","scale":{"domain":[0,8],"nice":false,"padding":0},"axis":null},"y":{"field":"y","type":"quantitative","scale":{"domain":[0,3.5],"nice":false,"padding":0},"axis":null}}},
{"data":{"values":[
{"x":0.507,"y":3.714,"t":"On-axis","s":52,"c":"#ffffff","a":0},
{"x":-0.767,"y":1.761,"t":"E","s":64,"c":"#0070c0","a":270},
{"x":-0.578,"y":2.037,"t":"ν","s":40,"c":"#0070c0","a":270},
{"x":-0.767,"y":2.351,"t":"(GeV)","s":66,"c":"#0070c0","a":270},
{"x":5.711,"y":-0.658,"t":"P","s":49,"c":"#ff0000","a":0},
{"x":6.1,"y":-0.75,"t":"π","s":30,"c":"#ff0000","a":0},
{"x":6.501,"y":-0.658,"t":"(GeV)","s":52,"c":"#ff0000","a":0},
{"x":5.145,"y":1.577,"t":"T2K on-axis","s":36.6,"c":"#ffffff","a":0},
{"x":5.145,"y":1.225,"t":"detector","s":36.6,"c":"#ffffff","a":0}]},
"mark":{"type":"text","font":"Liberation Sans","fontWeight":"bold","align":"left","baseline":"alphabetic"},"encoding":{"x":{"field":"x","type":"quantitative","scale":{"domain":[0,8],"nice":false,"padding":0},"axis":null},"y":{"field":"y","type":"quantitative","scale":{"domain":[0,3.5],"nice":false,"padding":0},"axis":null},"text":{"field":"t"},"size":{"field":"s","type":"quantitative","scale":null},"fill":{"field":"c","type":"nominal","scale":null},"angle":{"field":"a","type":"quantitative","scale":null}}},
{"data":{"values":[{"v":0,"w":62},{"v":62,"w":124},{"v":124,"w":186},{"v":186,"w":248},{"v":248,"w":310},{"v":310,"w":372},{"v":372,"w":434},{"v":434,"w":496},{"v":496,"w":558},{"v":558,"w":620},{"v":620,"w":682},{"v":682,"w":744},{"v":744,"w":806},{"v":806,"w":868},{"v":868,"w":930},{"v":930,"w":992},{"v":992,"w":1054},{"v":1054,"w":1116},{"v":1116,"w":1178},{"v":1178,"w":1240},{"v":1240,"w":1302},{"v":1302,"w":1364},{"v":1364,"w":1426},{"v":1426,"w":1488},{"v":1488,"w":1550},{"v":1550,"w":1612},{"v":1612,"w":1674},{"v":1674,"w":1736},{"v":1736,"w":1798},{"v":1798,"w":1860},{"v":1860,"w":1922},{"v":1922,"w":1984},{"v":1984,"w":2046},{"v":2046,"w":2108},{"v":2108,"w":2170},{"v":2170,"w":2232},{"v":2232,"w":2294},{"v":2294,"w":2356},{"v":2356,"w":2418},{"v":2418,"w":2480},{"v":2480,"w":2542},{"v":2542,"w":2604},{"v":2604,"w":2666},{"v":2666,"w":2728},{"v":2728,"w":2790},{"v":2790,"w":2852},{"v":2852,"w":2914},{"v":2914,"w":2976},{"v":2976,"w":3038},{"v":3038,"w":3100}]},
"mark":{"type":"rect"},"encoding":{"x":{"datum":8.045,"type":"quantitative","scale":{"domain":[0,8],"nice":false,"padding":0},"axis":null},"x2":{"datum":8.5},"y":{"field":"v","type":"quantitative","scale":{"domain":[0,3100],"nice":false,"padding":0},"axis":{"orient":"right","offset":42.4,"values":[0,500,1000,1500,2000,2500,3000],"format":"d","title":null,"grid":false,"domain":false,"zindex":1,"tickColor":"#222","tickWidth":1.5,"tickSize":-20,"labelPadding":24.5,"labelFontSize":21,"labelFontWeight":"bold","labelFont":"Liberation Sans","labelColor":"#000","labelFlush":false,"labelOverlap":false}},"y2":{"field":"w"},"color":{"field":"v","type":"quantitative","legend":null,"scale":{"domain":[0,560,1050,1710,2360,3100],"range":["#9100ff","#0000ff","#00ffff","#00ff00","#ffff00","#ff0000"]}}}}
]},
{"width":676,"height":457,"resolve":{"scale":{"x":"independent","y":"independent"},"axis":{"x":"independent","y":"independent"}},"layer":[
{"data":{"values":[
{"x":-1.846,"e":-0.947,"y":-0.47,"t":4.142,"c":"#ffffff"},
{"x":-0.947,"e":8.82,"y":-0.444,"t":-0.421,"c":"#b9b9b9"},
{"x":-0.947,"e":8.82,"y":-0.421,"t":3.9,"c":"#f1f1f1"},
{"x":-0.947,"e":-0.485,"y":1.593,"t":3.844,"c":"#ffffff"},
{"x":5.385,"e":8.615,"y":-0.47,"t":-0.168,"c":"#ffffff"},
{"x":0.225,"e":6.473,"y":3.56,"t":4.142,"c":"#ffc000"}]},
"mark":{"type":"rect"},"encoding":{"x":{"field":"x","type":"quantitative","scale":{"domain":[0,8],"nice":false,"padding":0},"axis":{"orient":"bottom","values":[0,1,2,3,4,5,6,7,8],"title":null,"grid":false,"zindex":1,"domainColor":"#222","domainWidth":2,"tickColor":"#222","tickWidth":1.5,"tickSize":-11,"labelPadding":22,"labelFontSize":21,"labelFontWeight":"bold","labelFont":"Liberation Sans","labelColor":"#000","labelFlush":false,"labelOverlap":false}},"x2":{"field":"e"},"y":{"field":"y","type":"quantitative","scale":{"domain":[0,3.5],"nice":false,"padding":0},"axis":{"orient":"left","values":[0,0.5,1,1.5,2,2.5,3,3.5],"format":"~g","title":null,"grid":false,"zindex":1,"domainColor":"#222","domainWidth":2,"tickColor":"#222","tickWidth":1.5,"tickSize":-20,"labelPadding":23,"labelFontSize":21,"labelFontWeight":"bold","labelFont":"Liberation Sans","labelColor":"#000","labelFlush":false,"labelOverlap":false}},"y2":{"field":"t"},"fill":{"field":"c","type":"nominal","scale":null}}},
{"data":{"values":[
{"x":0.2,"b":0.1,"v":5},{"x":0.2,"b":0.05,"v":8},
{"x":0.28,"b":0.15,"v":5},{"x":0.28,"b":0.1,"v":14},{"x":0.28,"b":0.05,"v":8},
{"x":0.36,"b":0.15,"v":25},{"x":0.36,"b":0.1,"v":18},{"x":0.36,"b":0.05,"v":8},
{"x":0.44,"b":0.2,"v":40},{"x":0.44,"b":0.15,"v":30},{"x":0.44,"b":0.1,"v":12},{"x":0.44,"b":0.05,"v":6},
{"x":0.52,"b":0.2,"v":42},{"x":0.52,"b":0.15,"v":25},{"x":0.52,"b":0.1,"v":10},{"x":0.52,"b":0.05,"v":5},
{"x":0.6,"b":0.25,"v":50},{"x":0.6,"b":0.2,"v":40},{"x":0.6,"b":0.15,"v":18},{"x":0.6,"b":0.1,"v":8},{"x":0.6,"b":0.05,"v":5},
{"x":0.68,"b":0.3,"v":52},{"x":0.68,"b":0.25,"v":42},{"x":0.68,"b":0.2,"v":18},{"x":0.68,"b":0.15,"v":8},{"x":0.68,"b":0.1,"v":5},
{"x":0.76,"b":0.35,"v":55},{"x":0.76,"b":0.3,"v":75},{"x":0.76,"b":0.25,"v":30},{"x":0.76,"b":0.2,"v":15},{"x":0.76,"b":0.15,"v":8},{"x":0.76,"b":0.1,"v":5},
{"x":0.84,"b":0.4,"v":58},{"x":0.84,"b":0.35,"v":80},{"x":0.84,"b":0.3,"v":32},{"x":0.84,"b":0.25,"v":16},{"x":0.84,"b":0.2,"v":10},{"x":0.84,"b":0.15,"v":6},{"x":0.84,"b":0.1,"v":4},
{"x":0.92,"b":0.4,"v":55},{"x":0.92,"b":0.35,"v":90},{"x":0.92,"b":0.3,"v":35},{"x":0.92,"b":0.25,"v":18},{"x":0.92,"b":0.2,"v":12},{"x":0.92,"b":0.15,"v":7},{"x":0.92,"b":0.1,"v":4},
{"x":1,"b":0.45,"v":55},{"x":1,"b":0.4,"v":105},{"x":1,"b":0.35,"v":40},{"x":1,"b":0.3,"v":20},{"x":1,"b":0.25,"v":12},{"x":1,"b":0.2,"v":8},{"x":1,"b":0.15,"v":5},
{"x":1.08,"b":0.5,"v":45},{"x":1.08,"b":0.45,"v":110},{"x":1.08,"b":0.4,"v":45},{"x":1.08,"b":0.35,"v":25},{"x":1.08,"b":0.3,"v":14},{"x":1.08,"b":0.25,"v":8},{"x":1.08,"b":0.2,"v":5},
{"x":1.16,"b":0.55,"v":40},{"x":1.16,"b":0.5,"v":112},{"x":1.16,"b":0.45,"v":55},{"x":1.16,"b":0.4,"v":30},{"x":1.16,"b":0.35,"v":20},{"x":1.16,"b":0.3,"v":12},{"x":1.16,"b":0.25,"v":6},{"x":1.16,"b":0.1,"v":4},
{"x":1.24,"b":0.55,"v":30},{"x":1.24,"b":0.5,"v":105},{"x":1.24,"b":0.45,"v":80},{"x":1.24,"b":0.4,"v":45},{"x":1.24,"b":0.35,"v":30},{"x":1.24,"b":0.3,"v":18},{"x":1.24,"b":0.25,"v":8},{"x":1.24,"b":0.1,"v":4},
{"x":1.32,"b":0.6,"v":25},{"x":1.32,"b":0.55,"v":98},{"x":1.32,"b":0.5,"v":65},{"x":1.32,"b":0.45,"v":45},{"x":1.32,"b":0.4,"v":30},{"x":1.32,"b":0.35,"v":20},{"x":1.32,"b":0.3,"v":10},{"x":1.32,"b":0.2,"v":5},
{"x":1.4,"b":0.65,"v":15},{"x":1.4,"b":0.6,"v":82},{"x":1.4,"b":0.55,"v":70},{"x":1.4,"b":0.5,"v":55},{"x":1.4,"b":0.45,"v":40},{"x":1.4,"b":0.4,"v":28},{"x":1.4,"b":0.35,"v":18},{"x":1.4,"b":0.3,"v":12},{"x":1.4,"b":0.25,"v":7},{"x":1.4,"b":0.15,"v":4},
{"x":1.48,"b":0.65,"v":12},{"x":1.48,"b":0.6,"v":60},{"x":1.48,"b":0.55,"v":72},{"x":1.48,"b":0.5,"v":58},{"x":1.48,"b":0.45,"v":42},{"x":1.48,"b":0.4,"v":30},{"x":1.48,"b":0.35,"v":20},{"x":1.48,"b":0.3,"v":12},{"x":1.48,"b":0.25,"v":6},{"x":1.48,"b":0.15,"v":4},
{"x":1.56,"b":0.7,"v":10},{"x":1.56,"b":0.65,"v":40},{"x":1.56,"b":0.6,"v":68},{"x":1.56,"b":0.55,"v":62},{"x":1.56,"b":0.5,"v":50},{"x":1.56,"b":0.45,"v":35},{"x":1.56,"b":0.4,"v":25},{"x":1.56,"b":0.35,"v":15},{"x":1.56,"b":0.3,"v":8},{"x":1.56,"b":0.2,"v":4},
{"x":1.64,"b":0.75,"v":8},{"x":1.64,"b":0.7,"v":22},{"x":1.64,"b":0.65,"v":60},{"x":1.64,"b":0.6,"v":65},{"x":1.64,"b":0.55,"v":62},{"x":1.64,"b":0.5,"v":45},{"x":1.64,"b":0.45,"v":35},{"x":1.64,"b":0.4,"v":25},{"x":1.64,"b":0.35,"v":18},{"x":1.64,"b":0.3,"v":10},{"x":1.64,"b":0.25,"v":5},
{"x":1.72,"b":0.75,"v":8},{"x":1.72,"b":0.7,"v":20},{"x":1.72,"b":0.65,"v":50},{"x":1.72,"b":0.6,"v":62},{"x":1.72,"b":0.55,"v":62},{"x":1.72,"b":0.5,"v":50},{"x":1.72,"b":0.45,"v":38},{"x":1.72,"b":0.4,"v":28},{"x":1.72,"b":0.35,"v":20},{"x":1.72,"b":0.3,"v":12},{"x":1.72,"b":0.25,"v":6},
{"x":1.8,"b":0.8,"v":8},{"x":1.8,"b":0.75,"v":18},{"x":1.8,"b":0.7,"v":40},{"x":1.8,"b":0.65,"v":60},{"x":1.8,"b":0.6,"v":62},{"x":1.8,"b":0.55,"v":55},{"x":1.8,"b":0.5,"v":40},{"x":1.8,"b":0.45,"v":32},{"x":1.8,"b":0.4,"v":22},{"x":1.8,"b":0.35,"v":15},{"x":1.8,"b":0.3,"v":8},{"x":1.8,"b":0.25,"v":5},
{"x":1.88,"b":0.85,"v":6},{"x":1.88,"b":0.8,"v":15},{"x":1.88,"b":0.75,"v":34},{"x":1.88,"b":0.7,"v":52},{"x":1.88,"b":0.65,"v":60},{"x":1.88,"b":0.6,"v":58},{"x":1.88,"b":0.55,"v":45},{"x":1.88,"b":0.5,"v":35},{"x":1.88,"b":0.45,"v":26},{"x":1.88,"b":0.4,"v":18},{"x":1.88,"b":0.35,"v":10},{"x":1.88,"b":0.3,"v":6},
{"x":1.96,"b":0.9,"v":5},{"x":1.96,"b":0.85,"v":12},{"x":1.96,"b":0.8,"v":28},{"x":1.96,"b":0.75,"v":45},{"x":1.96,"b":0.7,"v":58},{"x":1.96,"b":0.65,"v":60},{"x":1.96,"b":0.6,"v":50},{"x":1.96,"b":0.55,"v":38},{"x":1.96,"b":0.5,"v":30},{"x":1.96,"b":0.45,"v":22},{"x":1.96,"b":0.4,"v":15},{"x":1.96,"b":0.35,"v":8},{"x":1.96,"b":0.3,"v":5},
{"x":2.04,"b":0.9,"v":5},{"x":2.04,"b":0.85,"v":11},{"x":2.04,"b":0.8,"v":24},{"x":2.04,"b":0.75,"v":40},{"x":2.04,"b":0.7,"v":52},{"x":2.04,"b":0.65,"v":58},{"x":2.04,"b":0.6,"v":55},{"x":2.04,"b":0.55,"v":42},{"x":2.04,"b":0.5,"v":32},{"x":2.04,"b":0.45,"v":25},{"x":2.04,"b":0.4,"v":18},{"x":2.04,"b":0.35,"v":10},{"x":2.04,"b":0.3,"v":5},
{"x":2.12,"b":0.95,"v":5},{"x":2.12,"b":0.9,"v":10},{"x":2.12,"b":0.85,"v":20},{"x":2.12,"b":0.8,"v":35},{"x":2.12,"b":0.75,"v":45},{"x":2.12,"b":0.7,"v":55},{"x":2.12,"b":0.65,"v":58},{"x":2.12,"b":0.6,"v":45},{"x":2.12,"b":0.55,"v":35},{"x":2.12,"b":0.5,"v":28},{"x":2.12,"b":0.45,"v":20},{"x":2.12,"b":0.4,"v":14},{"x":2.12,"b":0.35,"v":8},{"x":2.12,"b":0.3,"v":5},
{"x":2.2,"b":1,"v":6},{"x":2.2,"b":0.95,"v":11},{"x":2.2,"b":0.9,"v":20},{"x":2.2,"b":0.85,"v":33},{"x":2.2,"b":0.8,"v":42},{"x":2.2,"b":0.75,"v":48},{"x":2.2,"b":0.7,"v":50},{"x":2.2,"b":0.65,"v":42},{"x":2.2,"b":0.6,"v":34},{"x":2.2,"b":0.55,"v":26},{"x":2.2,"b":0.5,"v":19},{"x":2.2,"b":0.45,"v":13},{"x":2.2,"b":0.4,"v":8},{"x":2.2,"b":0.35,"v":5},
{"x":2.28,"b":1,"v":6},{"x":2.28,"b":0.95,"v":12},{"x":2.28,"b":0.9,"v":20},{"x":2.28,"b":0.85,"v":32},{"x":2.28,"b":0.8,"v":40},{"x":2.28,"b":0.75,"v":42},{"x":2.28,"b":0.7,"v":42},{"x":2.28,"b":0.65,"v":38},{"x":2.28,"b":0.6,"v":32},{"x":2.28,"b":0.55,"v":25},{"x":2.28,"b":0.5,"v":18},{"x":2.28,"b":0.45,"v":13},{"x":2.28,"b":0.4,"v":8},{"x":2.28,"b":0.35,"v":5},
{"x":2.36,"b":1.05,"v":6},{"x":2.36,"b":1,"v":12},{"x":2.36,"b":0.95,"v":20},{"x":2.36,"b":0.9,"v":31},{"x":2.36,"b":0.85,"v":38},{"x":2.36,"b":0.75,"v":38},{"x":2.36,"b":0.65,"v":28},{"x":2.36,"b":0.55,"v":18},{"x":2.36,"b":0.45,"v":12},{"x":2.36,"b":0.35,"v":7},{"x":2.36,"b":0.25,"v":4},
{"x":2.44,"b":1.1,"v":5},{"x":2.44,"b":1.05,"v":12},{"x":2.44,"b":1,"v":20},{"x":2.44,"b":0.9,"v":33},{"x":2.44,"b":0.8,"v":36},{"x":2.44,"b":0.7,"v":26},{"x":2.44,"b":0.55,"v":16},{"x":2.44,"b":0.35,"v":8},{"x":2.44,"b":0.15,"v":4},
{"x":2.52,"b":1.1,"v":5},{"x":2.52,"b":1.05,"v":11},{"x":2.52,"b":1,"v":19},{"x":2.52,"b":0.9,"v":32},{"x":2.52,"b":0.8,"v":35},{"x":2.52,"b":0.7,"v":25},{"x":2.52,"b":0.55,"v":15},{"x":2.52,"b":0.35,"v":8},{"x":2.52,"b":0.15,"v":4},
{"x":2.6,"b":1.15,"v":5},{"x":2.6,"b":1.1,"v":10},{"x":2.6,"b":1.05,"v":18},{"x":2.6,"b":0.95,"v":30},{"x":2.6,"b":0.85,"v":34},{"x":2.6,"b":0.75,"v":24},{"x":2.6,"b":0.6,"v":14},{"x":2.6,"b":0.4,"v":8},{"x":2.6,"b":0.2,"v":4},
{"x":2.68,"b":1.2,"v":5},{"x":2.68,"b":1.15,"v":10},{"x":2.68,"b":1.1,"v":18},{"x":2.68,"b":1,"v":28},{"x":2.68,"b":0.9,"v":33},{"x":2.68,"b":0.8,"v":23},{"x":2.68,"b":0.65,"v":14},{"x":2.68,"b":0.45,"v":8},{"x":2.68,"b":0.25,"v":4},
{"x":2.76,"b":1.25,"v":5},{"x":2.76,"b":1.2,"v":10},{"x":2.76,"b":1.15,"v":16},{"x":2.76,"b":1.05,"v":26},{"x":2.76,"b":0.95,"v":31},{"x":2.76,"b":0.85,"v":22},{"x":2.76,"b":0.7,"v":13},{"x":2.76,"b":0.5,"v":8},{"x":2.76,"b":0.3,"v":4},
{"x":2.84,"b":1.25,"v":5},{"x":2.84,"b":1.2,"v":10},{"x":2.84,"b":1.15,"v":16},{"x":2.84,"b":1.05,"v":24},{"x":2.84,"b":0.95,"v":30},{"x":2.84,"b":0.85,"v":22},{"x":2.84,"b":0.7,"v":13},{"x":2.84,"b":0.5,"v":7},{"x":2.84,"b":0.3,"v":4},
{"x":2.92,"b":1.3,"v":5},{"x":2.92,"b":1.25,"v":9},{"x":2.92,"b":1.2,"v":14},{"x":2.92,"b":1.1,"v":20},{"x":2.92,"b":1,"v":25},{"x":2.92,"b":0.9,"v":20},{"x":2.92,"b":0.75,"v":13},{"x":2.92,"b":0.55,"v":7},{"x":2.92,"b":0.35,"v":4},
{"x":3,"b":1.35,"v":5},{"x":3,"b":1.3,"v":9},{"x":3,"b":1.25,"v":14},{"x":3,"b":1.15,"v":19},{"x":3,"b":1.05,"v":24},{"x":3,"b":0.95,"v":19},{"x":3,"b":0.8,"v":12},{"x":3,"b":0.6,"v":7},{"x":3,"b":0.4,"v":4},
{"x":3.08,"b":1.35,"v":5},{"x":3.08,"b":1.3,"v":8},{"x":3.08,"b":1.25,"v":12},{"x":3.08,"b":1.15,"v":17},{"x":3.08,"b":1.05,"v":20},{"x":3.08,"b":0.95,"v":17},{"x":3.08,"b":0.8,"v":12},{"x":3.08,"b":0.6,"v":7},{"x":3.08,"b":0.4,"v":4},
{"x":3.16,"b":1.4,"v":5},{"x":3.16,"b":1.35,"v":8},{"x":3.16,"b":1.3,"v":12},{"x":3.16,"b":1.2,"v":16},{"x":3.16,"b":1.1,"v":19},{"x":3.16,"b":1,"v":17},{"x":3.16,"b":0.85,"v":12},{"x":3.16,"b":0.65,"v":7},{"x":3.16,"b":0.45,"v":4},
{"x":3.24,"b":1.45,"v":5},{"x":3.24,"b":1.4,"v":8},{"x":3.24,"b":1.35,"v":11},{"x":3.24,"b":1.25,"v":15},{"x":3.24,"b":1.15,"v":17},{"x":3.24,"b":1.05,"v":16},{"x":3.24,"b":0.9,"v":12},{"x":3.24,"b":0.7,"v":7},{"x":3.24,"b":0.5,"v":4},
{"x":3.32,"b":1.45,"v":5},{"x":3.32,"b":1.4,"v":8},{"x":3.32,"b":1.35,"v":10},{"x":3.32,"b":1.25,"v":14},{"x":3.32,"b":1.15,"v":16},{"x":3.32,"b":1.05,"v":15},{"x":3.32,"b":0.9,"v":11},{"x":3.32,"b":0.7,"v":7},{"x":3.32,"b":0.5,"v":4},
{"x":3.4,"b":1.45,"v":5},{"x":3.4,"b":1.4,"v":7},{"x":3.4,"b":1.3,"v":11},{"x":3.4,"b":1.2,"v":14},{"x":3.4,"b":1.05,"v":15},{"x":3.4,"b":0.9,"v":11},{"x":3.4,"b":0.7,"v":7},{"x":3.4,"b":0.5,"v":4},
{"x":3.48,"b":1.45,"v":5},{"x":3.48,"b":1.4,"v":7},{"x":3.48,"b":1.3,"v":10},{"x":3.48,"b":1.2,"v":13},{"x":3.48,"b":1.05,"v":14},{"x":3.48,"b":0.9,"v":11},{"x":3.48,"b":0.7,"v":6},{"x":3.48,"b":0.5,"v":4},
{"x":3.56,"b":1.55,"v":4},{"x":3.56,"b":1.5,"v":7},{"x":3.56,"b":1.35,"v":10},{"x":3.56,"b":1.2,"v":13},{"x":3.56,"b":1.05,"v":14},{"x":3.56,"b":0.85,"v":10},{"x":3.56,"b":0.65,"v":6},{"x":3.56,"b":0.45,"v":4},
{"x":3.64,"b":1.55,"v":4},{"x":3.64,"b":1.5,"v":7},{"x":3.64,"b":1.35,"v":9},{"x":3.64,"b":1.2,"v":12},{"x":3.64,"b":1.05,"v":13},{"x":3.64,"b":0.85,"v":10},{"x":3.64,"b":0.65,"v":6},{"x":3.64,"b":0.45,"v":4},
{"x":3.72,"b":1.6,"v":4},{"x":3.72,"b":1.55,"v":7},{"x":3.72,"b":1.3,"v":9},{"x":3.72,"b":1.05,"v":12},{"x":3.72,"b":0.8,"v":8},{"x":3.72,"b":0.5,"v":5},{"x":3.72,"b":0.3,"v":3},
{"x":3.8,"b":1.6,"v":4},{"x":3.8,"b":1.55,"v":7},{"x":3.8,"b":1.3,"v":9},{"x":3.8,"b":1.05,"v":12},{"x":3.8,"b":0.8,"v":8},{"x":3.8,"b":0.5,"v":5},{"x":3.8,"b":0.3,"v":3},
{"x":3.88,"b":1.6,"v":4},{"x":3.88,"b":1.55,"v":7},{"x":3.88,"b":1.3,"v":8},{"x":3.88,"b":1.05,"v":11},{"x":3.88,"b":0.8,"v":8},{"x":3.88,"b":0.5,"v":5},{"x":3.88,"b":0.3,"v":3},
{"x":3.96,"b":1.7,"v":4},{"x":3.96,"b":1.65,"v":6},{"x":3.96,"b":1.3,"v":8},{"x":3.96,"b":1,"v":11},{"x":3.96,"b":0.75,"v":7},{"x":3.96,"b":0.5,"v":5},{"x":3.96,"b":0.3,"v":3},
{"x":4.04,"b":1.7,"v":4},{"x":4.04,"b":1.65,"v":6},{"x":4.04,"b":1.3,"v":8},{"x":4.04,"b":1,"v":10},{"x":4.04,"b":0.75,"v":7},{"x":4.04,"b":0.5,"v":5},{"x":4.04,"b":0.3,"v":3},
{"x":4.12,"b":1.7,"v":4},{"x":4.12,"b":1.65,"v":6},{"x":4.12,"b":1.3,"v":8},{"x":4.12,"b":1,"v":10},{"x":4.12,"b":0.75,"v":7},{"x":4.12,"b":0.5,"v":4},{"x":4.12,"b":0.3,"v":3},
{"x":4.2,"b":1.8,"v":3},{"x":4.2,"b":1.3,"v":7},{"x":4.2,"b":1,"v":9},{"x":4.2,"b":0.7,"v":6},{"x":4.2,"b":0.45,"v":4},
{"x":4.28,"b":1.8,"v":3},{"x":4.28,"b":1.3,"v":7},{"x":4.28,"b":1,"v":9},{"x":4.28,"b":0.7,"v":6},{"x":4.28,"b":0.45,"v":4},
{"x":4.36,"b":1.9,"v":3},{"x":4.36,"b":1.3,"v":6},{"x":4.36,"b":1,"v":8},{"x":4.36,"b":0.7,"v":5},{"x":4.36,"b":0.45,"v":4},
{"x":4.44,"b":1.9,"v":3},{"x":4.44,"b":1.3,"v":6},{"x":4.44,"b":1,"v":8},{"x":4.44,"b":0.7,"v":5},{"x":4.44,"b":0.45,"v":4},
{"x":4.52,"b":1.9,"v":3},{"x":4.52,"b":1.3,"v":6},{"x":4.52,"b":1,"v":8},{"x":4.52,"b":0.7,"v":5},{"x":4.52,"b":0.45,"v":3},
{"x":4.6,"b":2,"v":3},{"x":4.6,"b":1.4,"v":5},{"x":4.6,"b":1,"v":7},{"x":4.6,"b":0.65,"v":4},
{"x":4.68,"b":2,"v":3},{"x":4.68,"b":1.4,"v":5},{"x":4.68,"b":1,"v":7},{"x":4.68,"b":0.65,"v":4},
{"x":4.76,"b":2,"v":3},{"x":4.76,"b":1.4,"v":5},{"x":4.76,"b":1,"v":7},{"x":4.76,"b":0.65,"v":4},
{"x":4.84,"b":2.1,"v":3},{"x":4.84,"b":1.4,"v":5},{"x":4.84,"b":1,"v":6},{"x":4.84,"b":0.65,"v":4},
{"x":4.92,"b":2.1,"v":3},{"x":4.92,"b":1.4,"v":5},{"x":4.92,"b":1,"v":6},{"x":4.92,"b":0.65,"v":4},
{"x":5,"b":2.1,"v":3},{"x":5,"b":1.4,"v":5},{"x":5,"b":1,"v":6},{"x":5,"b":0.65,"v":4},
{"x":5.08,"b":2.15,"v":3},{"x":5.08,"b":1.3,"v":4},{"x":5.08,"b":0.9,"v":5},{"x":5.08,"b":0.6,"v":3},
{"x":5.16,"b":2.2,"v":3},{"x":5.16,"b":1.3,"v":4},{"x":5.16,"b":0.9,"v":5},{"x":5.16,"b":0.6,"v":3},
{"x":5.24,"b":2.25,"v":3},{"x":5.24,"b":1.3,"v":4},{"x":5.24,"b":0.9,"v":5},{"x":5.24,"b":0.6,"v":3},
{"x":5.32,"b":2.3,"v":2},{"x":5.32,"b":1.2,"v":4},{"x":5.32,"b":0.8,"v":3},
{"x":5.4,"b":2.3,"v":2},{"x":5.4,"b":1.2,"v":4},{"x":5.4,"b":0.8,"v":3},
{"x":5.48,"b":2.35,"v":2},{"x":5.48,"b":1.2,"v":4},{"x":5.48,"b":0.8,"v":3},
{"x":5.56,"b":2.35,"v":2},{"x":5.56,"b":1.2,"v":4},{"x":5.56,"b":0.8,"v":3},
{"x":5.64,"b":2.35,"v":2},{"x":5.64,"b":1.1,"v":3},
{"x":5.72,"b":2.35,"v":2},{"x":5.72,"b":1.1,"v":3},
{"x":5.8,"b":2.45,"v":2},{"x":5.88,"b":2.45,"v":2},{"x":5.96,"b":2.55,"v":2},{"x":6.04,"b":2.6,"v":2},{"x":6.12,"b":2.65,"v":2},{"x":6.2,"b":2.7,"v":2},{"x":6.28,"b":2.7,"v":2},{"x":6.36,"b":2.35,"v":2},{"x":6.44,"b":2.7,"v":2},{"x":6.52,"b":2.65,"v":2},{"x":6.6,"b":2.75,"v":2},{"x":6.68,"b":2.85,"v":2},{"x":6.76,"b":2.65,"v":2},{"x":6.84,"b":2.7,"v":2},{"x":6.92,"b":2.5,"v":2},{"x":7,"b":2.45,"v":2},{"x":7.08,"b":3.05,"v":2},{"x":7.16,"b":3,"v":2},{"x":7.24,"b":3,"v":2},{"x":7.32,"b":3.15,"v":2},{"x":7.4,"b":2.7,"v":2},{"x":7.48,"b":3.1,"v":2},{"x":7.56,"b":3,"v":2},{"x":7.64,"b":2.8,"v":2},{"x":7.72,"b":3.15,"v":2},{"x":7.8,"b":3.1,"v":2},{"x":7.88,"b":3.35,"v":2},{"x":7.96,"b":3.4,"v":2}]},
"mark":{"type":"bar","width":8,"orient":"vertical"},"encoding":{"x":{"field":"x","type":"quantitative","scale":{"domain":[0,8],"nice":false,"padding":0},"axis":null},"y":{"field":"b","type":"quantitative","stack":null,"scale":{"domain":[0,3.5],"nice":false,"padding":0},"axis":null},"color":{"field":"v","type":"quantitative","legend":null,"scale":{"domain":[0,21,39,63,87,115],"range":["#9100ff","#0000ff","#00ffff","#00ff00","#ffff00","#ff0000"]}}}},
{"data":{"values":[{"x":1.36,"e":1.6,"y":0,"t":0.02},{"x":1.6,"e":2.16,"y":0,"t":0.05},{"x":2.16,"e":2.96,"y":0,"t":0.1},{"x":2.96,"e":3.6,"y":0,"t":0.15},{"x":3.6,"e":8,"y":0,"t":0.2}]},
"mark":{"type":"rect","color":"#f1f1f1"},"encoding":{"x":{"field":"x","type":"quantitative","scale":{"domain":[0,8],"nice":false,"padding":0},"axis":null},"x2":{"field":"e"},"y":{"field":"y","type":"quantitative","scale":{"domain":[0,3.5],"nice":false,"padding":0},"axis":null},"y2":{"field":"t"}}},
{"data":{"values":[
{"x":5.32,"y":2.025},{"x":5.4,"y":2.275},{"x":5.32,"y":2.225},{"x":5.56,"y":1.925},{"x":5.72,"y":1.875},{"x":5.4,"y":1.825},{"x":5.4,"y":1.775},{"x":5.8,"y":1.775},{"x":5.8,"y":2.325},{"x":5.8,"y":2.275},{"x":5.8,"y":2.225},{"x":5.8,"y":2.175},{"x":5.96,"y":2.375},{"x":5.96,"y":2.075},{"x":5.96,"y":2.025},{"x":5.96,"y":1.875},{"x":6.2,"y":2.025},{"x":6.36,"y":2.125},{"x":6.36,"y":2.075},{"x":6.36,"y":1.975},{"x":6.36,"y":1.775},{"x":6.36,"y":1.675},{"x":6.04,"y":1.675},{"x":6.2,"y":1.675},{"x":6.12,"y":1.825},{"x":5.72,"y":1.575},{"x":6.12,"y":1.425},{"x":6.52,"y":1.475},{"x":6.52,"y":1.825},{"x":6.44,"y":1.875},{"x":6.6,"y":1.875},{"x":6.68,"y":1.875},{"x":6.68,"y":1.825},{"x":6.52,"y":2.125},{"x":6.52,"y":2.075},{"x":6.52,"y":2.025},{"x":6.6,"y":2.025},{"x":6.6,"y":2.175},{"x":6.6,"y":2.325},{"x":6.6,"y":2.275},{"x":6.52,"y":2.375},{"x":6.44,"y":2.425},{"x":6.84,"y":2.325},{"x":6.84,"y":2.275},{"x":6.68,"y":2.375},{"x":6.76,"y":2.375},{"x":6.92,"y":2.375},{"x":6.92,"y":2.325},{"x":6.92,"y":2.175},{"x":7,"y":2.125},{"x":7,"y":2.075},{"x":6.84,"y":1.875},{"x":7,"y":1.975},{"x":7,"y":1.925},{"x":6.92,"y":1.525},{"x":6.84,"y":1.725},{"x":6.92,"y":1.725},{"x":6.84,"y":1.675},{"x":6.92,"y":1.675},{"x":6.76,"y":1.625},{"x":6.68,"y":1.575},{"x":6.6,"y":1.625},{"x":7.24,"y":1.575},{"x":7.08,"y":1.425},{"x":7.24,"y":2.025},{"x":7.24,"y":2.175},{"x":7.24,"y":2.225},{"x":7.16,"y":2.225},{"x":7.32,"y":2.175},{"x":7.4,"y":2.175},{"x":7.32,"y":2.075},{"x":7.4,"y":2.325},{"x":7.4,"y":2.275},{"x":7.4,"y":2.075},{"x":7.4,"y":2.025},{"x":7.4,"y":1.975},{"x":7.4,"y":1.925},{"x":7.24,"y":1.875},{"x":7.24,"y":1.825},{"x":7.32,"y":1.825},{"x":7.32,"y":1.775},{"x":7.4,"y":1.775},{"x":7.48,"y":1.575},{"x":7.56,"y":2.325},{"x":7.56,"y":2.175},{"x":7.56,"y":2.075},{"x":7.56,"y":1.825},{"x":7.56,"y":1.725},{"x":7.56,"y":1.675},{"x":7.56,"y":1.575},{"x":7.56,"y":1.375},{"x":7.64,"y":1.475},{"x":7.72,"y":1.375},{"x":7.72,"y":1.875},{"x":7.72,"y":1.825},{"x":7.8,"y":2.225},{"x":7.8,"y":2.325},{"x":7.8,"y":2.125},{"x":7.8,"y":2.075},{"x":7.8,"y":1.675},{"x":7.88,"y":1.675},{"x":7.8,"y":1.575},{"x":7.72,"y":1.575},{"x":7.88,"y":1.575},{"x":7.96,"y":1.575},{"x":7.8,"y":1.425},{"x":7.96,"y":1.425},{"x":7.96,"y":1.525},{"x":7.96,"y":1.725},{"x":7.88,"y":1.875},{"x":7.88,"y":1.825},{"x":7.88,"y":1.775},{"x":7.96,"y":1.875},{"x":7.88,"y":1.925},{"x":7.96,"y":2.025},{"x":7.96,"y":2.425},{"x":7.96,"y":2.525},{"x":7.96,"y":2.575},{"x":7.96,"y":2.625},{"x":7.96,"y":2.725},{"x":7.96,"y":2.775},{"x":7.88,"y":2.875},{"x":7.88,"y":2.925},{"x":7.8,"y":3.025},{"x":7.88,"y":3.075},{"x":7.8,"y":3.075},{"x":7.96,"y":3.175},{"x":7.08,"y":2.675},{"x":7.08,"y":2.625},{"x":7.08,"y":2.575},{"x":7.08,"y":2.525},{"x":7.16,"y":2.625},{"x":7.16,"y":2.575},{"x":7.16,"y":2.525},{"x":7.32,"y":2.725},{"x":7.4,"y":2.625},{"x":7.56,"y":2.775},{"x":7.56,"y":2.825},{"x":7.48,"y":2.875},{"x":7.48,"y":2.825},{"x":7.72,"y":2.875},{"x":6.36,"y":2.325},
{"x":7.64,"y":0.775},{"x":6.92,"y":1.175},{"x":7.4,"y":1.225},{"x":7.56,"y":1.225},{"x":7.72,"y":1.175},{"x":7.96,"y":1.275},{"x":6.76,"y":1.325},{"x":6.84,"y":1.325},{"x":6.2,"y":0.425},{"x":7.32,"y":0.375},{"x":7.4,"y":0.375},{"x":7.64,"y":0.375},{"x":7.8,"y":0.375},{"x":7.64,"y":0.325},{"x":6.76,"y":0.325},{"x":6.88,"y":0.325},{"x":5.96,"y":0.325},{"x":6.2,"y":0.325},{"x":7.4,"y":0.325},
{"x":5.28,"y":0.275},{"x":5.52,"y":0.275},{"x":5.64,"y":0.275},{"x":5.76,"y":0.275},{"x":6.2,"y":0.275},{"x":6.84,"y":0.275},{"x":7.64,"y":0.275},{"x":7.8,"y":0.275},{"x":3.04,"y":0.275},{"x":3.2,"y":0.275},{"x":3.52,"y":0.275},{"x":4,"y":0.275},{"x":4.2,"y":0.275},
{"x":3.04,"y":0.225},{"x":3.2,"y":0.225},{"x":3.44,"y":0.225},{"x":3.68,"y":0.225},{"x":3.84,"y":0.225},{"x":4,"y":0.225},{"x":4.2,"y":0.225},{"x":4.36,"y":0.225},{"x":4.64,"y":0.225},{"x":5,"y":0.225},{"x":5.2,"y":0.225},{"x":5.32,"y":0.225},{"x":5.68,"y":0.225},{"x":5.96,"y":0.225},{"x":6.36,"y":0.225},{"x":6.84,"y":0.225},{"x":7,"y":0.225},{"x":7.28,"y":0.225},{"x":7.88,"y":0.225},{"x":2.32,"y":0.225},
{"x":1.96,"y":0.175},{"x":2.68,"y":0.175},{"x":3.04,"y":0.175},{"x":3.2,"y":0.175},{"x":3.28,"y":0.175},{"x":2.12,"y":0.125},{"x":2.2,"y":0.125},{"x":2.44,"y":0.125},{"x":2.52,"y":0.125}]},
"mark":{"type":"rect","width":7,"height":6.8,"color":"#f1f1f1"},"encoding":{"x":{"field":"x","type":"quantitative","scale":{"domain":[0,8],"nice":false,"padding":0},"axis":null},"y":{"field":"y","type":"quantitative","scale":{"domain":[0,3.5],"nice":false,"padding":0},"axis":null}}},
{"data":{"values":[{"x":2.92,"y":0.075},{"x":3.08,"y":0.025},{"x":3.28,"y":0.075},{"x":3.4,"y":0.075},{"x":3.68,"y":0.075},{"x":4.04,"y":0.075},{"x":4.2,"y":0.075},{"x":3.48,"y":0.125},{"x":3.76,"y":0.175},{"x":4.12,"y":0.175},{"x":4.36,"y":0.175},{"x":5,"y":0.075},{"x":4.76,"y":0.025},{"x":5.24,"y":0.125},{"x":5.88,"y":0.125},{"x":6.52,"y":0.025},{"x":6.76,"y":0.175},{"x":7.08,"y":0.175},{"x":7.24,"y":0.175},{"x":7.56,"y":0.125},{"x":7.56,"y":0.075},{"x":4.6,"y":0.175},{"x":4.84,"y":0.125},{"x":5.4,"y":0.175},{"x":5.56,"y":0.175}]},
"mark":{"type":"rect","width":7,"height":6.8,"color":"#9100ff"},"encoding":{"x":{"field":"x","type":"quantitative","scale":{"domain":[0,8],"nice":false,"padding":0},"axis":null},"y":{"field":"y","type":"quantitative","scale":{"domain":[0,3.5],"nice":false,"padding":0},"axis":null}}},
{"data":{"values":[{"a":0}]},"mark":{"type":"rect","filled":false,"stroke":"#555","strokeWidth":1.5},"encoding":{"x":{"datum":0,"type":"quantitative","scale":{"domain":[0,8],"nice":false,"padding":0},"axis":null},"x2":{"datum":8},"y":{"datum":0,"type":"quantitative","scale":{"domain":[0,3.5],"nice":false,"padding":0},"axis":null},"y2":{"datum":3.5}}},
{"data":{"values":[{"y":0.1},{"y":0.2},{"y":0.3},{"y":0.4},{"y":0.6},{"y":0.7},{"y":0.8},{"y":0.9},{"y":1.1},{"y":1.2},{"y":1.3},{"y":1.4},{"y":1.6},{"y":1.7},{"y":1.8},{"y":1.9},{"y":2.1},{"y":2.2},{"y":2.3},{"y":2.4},{"y":2.6},{"y":2.7},{"y":2.8},{"y":2.9},{"y":3.1},{"y":3.2},{"y":3.3},{"y":3.4}]},"mark":{"type":"rule","color":"#444","strokeWidth":1.5},"encoding":{"y":{"field":"y","type":"quantitative","scale":{"domain":[0,3.5],"nice":false,"padding":0},"axis":null},"x":{"datum":0,"type":"quantitative","scale":{"domain":[0,8],"nice":false,"padding":0},"axis":null},"x2":{"datum":0.12}}},
{"data":{"values":[{"x":0.2},{"x":0.4},{"x":0.6},{"x":0.8},{"x":1.2},{"x":1.4},{"x":1.6},{"x":1.8},{"x":2.2},{"x":2.4},{"x":2.6},{"x":2.8},{"x":3.2},{"x":3.4},{"x":3.6},{"x":3.8},{"x":4.2},{"x":4.4},{"x":4.6},{"x":4.8},{"x":5.2},{"x":5.4},{"x":5.6},{"x":5.8},{"x":6.2},{"x":6.4},{"x":6.6},{"x":6.8},{"x":7.2},{"x":7.4},{"x":7.6},{"x":7.8}]},"mark":{"type":"rule","color":"#222","strokeWidth":1.5},"encoding":{"x":{"field":"x","type":"quantitative","scale":{"domain":[0,8],"nice":false,"padding":0},"axis":null},"y":{"datum":0,"type":"quantitative","scale":{"domain":[0,3.5],"nice":false,"padding":0},"axis":null},"y2":{"datum":0.045}}},
{"data":{"values":[
{"x":0.473,"y":3.729,"t":"2.5 degree off-axis","s":52,"c":"#ffffff","a":0},
{"x":-0.781,"y":1.776,"t":"E","s":64,"c":"#0070c0","a":270},
{"x":-0.58,"y":2.06,"t":"ν","s":40,"c":"#0070c0","a":270},
{"x":-0.781,"y":2.381,"t":"(GeV)","s":66,"c":"#0070c0","a":270},
{"x":5.657,"y":-0.658,"t":"P","s":49,"c":"#ff0000","a":0},
{"x":6.05,"y":-0.75,"t":"π","s":30,"c":"#ff0000","a":0},
{"x":6.462,"y":-0.658,"t":"(GeV)","s":52,"c":"#ff0000","a":0},
{"x":3.964,"y":0.819,"t":"T2K off-axis","s":36.5,"c":"#ffffff","a":0},
{"x":3.964,"y":0.482,"t":"detector","s":36.5,"c":"#ffffff","a":0}]},
"mark":{"type":"text","font":"Liberation Sans","fontWeight":"bold","align":"left","baseline":"alphabetic"},"encoding":{"x":{"field":"x","type":"quantitative","scale":{"domain":[0,8],"nice":false,"padding":0},"axis":null},"y":{"field":"y","type":"quantitative","scale":{"domain":[0,3.5],"nice":false,"padding":0},"axis":null},"text":{"field":"t"},"size":{"field":"s","type":"quantitative","scale":null},"fill":{"field":"c","type":"nominal","scale":null},"angle":{"field":"a","type":"quantitative","scale":null}}},
{"data":{"values":[{"v":0,"w":2.3},{"v":2.3,"w":4.6},{"v":4.6,"w":6.9},{"v":6.9,"w":9.2},{"v":9.2,"w":11.5},{"v":11.5,"w":13.8},{"v":13.8,"w":16.1},{"v":16.1,"w":18.4},{"v":18.4,"w":20.7},{"v":20.7,"w":23},{"v":23,"w":25.3},{"v":25.3,"w":27.6},{"v":27.6,"w":29.9},{"v":29.9,"w":32.2},{"v":32.2,"w":34.5},{"v":34.5,"w":36.8},{"v":36.8,"w":39.1},{"v":39.1,"w":41.4},{"v":41.4,"w":43.7},{"v":43.7,"w":46},{"v":46,"w":48.3},{"v":48.3,"w":50.6},{"v":50.6,"w":52.9},{"v":52.9,"w":55.2},{"v":55.2,"w":57.5},{"v":57.5,"w":59.8},{"v":59.8,"w":62.1},{"v":62.1,"w":64.4},{"v":64.4,"w":66.7},{"v":66.7,"w":69},{"v":69,"w":71.3},{"v":71.3,"w":73.6},{"v":73.6,"w":75.9},{"v":75.9,"w":78.2},{"v":78.2,"w":80.5},{"v":80.5,"w":82.8},{"v":82.8,"w":85.1},{"v":85.1,"w":87.4},{"v":87.4,"w":89.7},{"v":89.7,"w":92},{"v":92,"w":94.3},{"v":94.3,"w":96.6},{"v":96.6,"w":98.9},{"v":98.9,"w":101.2},{"v":101.2,"w":103.5},{"v":103.5,"w":105.8},{"v":105.8,"w":108.1},{"v":108.1,"w":110.4},{"v":110.4,"w":112.7},{"v":112.7,"w":115}]},
"mark":{"type":"rect"},"encoding":{"x":{"datum":8.04,"type":"quantitative","scale":{"domain":[0,8],"nice":false,"padding":0},"axis":null},"x2":{"datum":8.491},"y":{"field":"v","type":"quantitative","scale":{"domain":[0,115],"nice":false,"padding":0},"axis":{"orient":"right","offset":41.6,"values":[0,20,40,60,80,100],"format":"d","title":null,"grid":false,"domain":false,"zindex":1,"tickColor":"#222","tickWidth":1.5,"tickSize":-20,"labelPadding":24,"labelFontSize":21,"labelFontWeight":"bold","labelFont":"Liberation Sans","labelColor":"#000","labelFlush":false,"labelOverlap":false}},"y2":{"field":"w"},"color":{"field":"v","type":"quantitative","legend":null,"scale":{"domain":[0,21,39,63,87,115],"range":["#9100ff","#0000ff","#00ffff","#00ff00","#ffff00","#ff0000"]}}}}
]}
]}
